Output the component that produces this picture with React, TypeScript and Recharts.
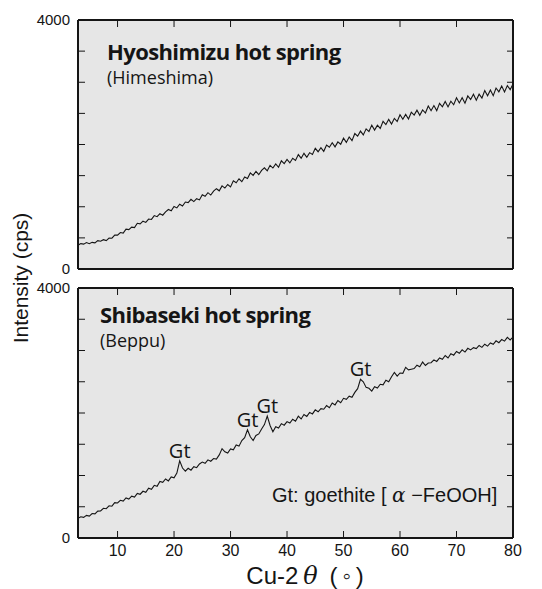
import { CartesianGrid, Line, LineChart, ReferenceDot, XAxis, YAxis } from "recharts";

// scan grid of the diffractometer, 2θ in degrees
const THETA_START = 3;
const THETA_STEP = 0.5;

// Hyoshimizu hot spring (Himeshima), cps, every 0.5°
const hyoshimizu = [
  382, 408, 399, 425, 406, 428, 420, 455, 446, 471,
  456, 496, 495, 546, 544, 586, 577, 640, 632, 672,
  665, 734, 726, 768, 748, 802, 796, 858, 840, 890,
  864, 917, 956, 936, 1005, 982, 1040, 1011, 1076, 1067,
  1120, 1083, 1130, 1110, 1194, 1168, 1226, 1188, 1252, 1290,
  1256, 1335, 1300, 1358, 1319, 1416, 1386, 1449, 1402, 1478,
  1454, 1544, 1504, 1568, 1515, 1584, 1626, 1578, 1665, 1622,
  1688, 1634, 1738, 1694, 1759, 1704, 1778, 1744, 1838, 1780,
  1858, 1794, 1869, 1840, 1938, 1884, 1950, 1890, 1992, 1956,
  2029, 1962, 2042, 2004, 2102, 2034, 2120, 2062, 2176, 2134,
  2215, 2154, 2252, 2208, 2311, 2232, 2310, 2258, 2373, 2320,
  2404, 2329, 2420, 2369, 2478, 2406, 2484, 2410, 2519, 2472,
  2552, 2470, 2556, 2506, 2618, 2542, 2625, 2544, 2660, 2606,
  2692, 2604, 2695, 2638, 2752, 2668, 2752, 2664, 2780, 2723,
  2808, 2713, 2809, 2746, 2866, 2782, 2874, 2784, 2907, 2846,
  2938, 2843, 2946, 2881, 2970,
];

// Shibaseki hot spring (Beppu), cps
const shibaseki = [
  314, 340, 330, 362, 350, 392, 386, 430, 432, 476,
  468, 516, 509, 566, 560, 604, 591, 642, 622, 670,
  655, 714, 700, 748, 730, 797, 780, 843, 826, 904,
  891, 944, 914, 978, 963, 1040, 1235, 1120, 1070, 1115,
  1085, 1140, 1125, 1185, 1215, 1195, 1250, 1228, 1272, 1262,
  1330, 1430, 1380, 1360, 1425, 1412, 1488, 1470, 1560, 1605,
  1730, 1620, 1560, 1640, 1665, 1745, 1815, 1950, 1800, 1700,
  1780, 1760, 1830, 1805, 1862, 1840, 1900, 1868, 1950, 1905,
  1975, 1945, 2010, 1985, 2050, 2020, 2070, 2060, 2118, 2085,
  2160, 2130, 2200, 2165, 2235, 2220, 2270, 2250, 2330, 2390,
  2540, 2500, 2410, 2395, 2350, 2420, 2400, 2460, 2450, 2525,
  2500, 2580, 2650, 2590, 2640, 2635, 2730, 2690, 2700, 2710,
  2765, 2740, 2815, 2760, 2800, 2805, 2850, 2825, 2880, 2860,
  2920, 2880, 2950, 2925, 2985, 2955, 3010, 2975, 3035, 3010,
  3045, 3030, 3080, 3050, 3100, 3070, 3120, 3100, 3155, 3125,
  3175, 3150, 3210, 3170, 3215,
];

const theta = hyoshimizu.map((_, i) => THETA_START + i * THETA_STEP);

const xTicks = [10, 20, 30, 40, 50, 60, 70, 80];
const yTicks = [0, 500, 1000, 1500, 2000, 2500, 3000, 3500, 4000];
const yLabelled = [0, 4000];

// goethite peaks marked in the Shibaseki pattern
const gtTheta = [21, 33, 36.5, 53];
const gtCps = [1235, 1730, 1950, 2540];

const W = 542;
const INK = "#151515";
const PAPER = "#e6e6e6";
const AXIS_FONT = "'Liberation Sans', Arial, sans-serif";
const TITLE_FONT = "'Open Sans', sans-serif";

function Panel({ values, top, height, bottomMargin, showX, peaks }: {
  values: number[];
  top: number;
  height: number;
  bottomMargin: number;
  showX: boolean;
  peaks: boolean;
}) {
  const rows = theta.map((t, i) => ({ theta: t, cps: values[i] }));
  const edge = { stroke: INK, strokeWidth: 2 };
  const tickLine = { stroke: INK, strokeWidth: 1 };
  return (
    <div style={{ position: "absolute", left: 0, top }}>
      <LineChart width={W} height={height} data={rows} margin={{ top: 19, right: 28, bottom: bottomMargin, left: 77 }}>
        <CartesianGrid horizontal={false} vertical={false} fill={PAPER} />
        <XAxis
          xAxisId="b" type="number" dataKey="theta" domain={[3, 80]} ticks={xTicks} allowDataOverflow
          height={1} axisLine={edge} tickLine={tickLine} tickSize={-7} tickMargin={14}
          tick={showX ? { fill: INK, fontSize: 16, fontFamily: AXIS_FONT } : false}
          tickFormatter={(v) => (showX ? String(v) : "")}
        />
        <XAxis
          xAxisId="t" orientation="top" type="number" dataKey="theta" domain={[3, 80]} ticks={xTicks} allowDataOverflow
          height={1} axisLine={edge} tickLine={tickLine} tickSize={-7} tickFormatter={() => ""}
        />
        <YAxis
          yAxisId="l" domain={[0, 4000]} ticks={yTicks} allowDataOverflow width={1}
          axisLine={edge} tickLine={tickLine} tickSize={-7} tickMargin={15}
          tick={{ fill: INK, fontSize: 15, fontFamily: AXIS_FONT }}
          tickFormatter={(v) => (yLabelled.includes(v) ? String(v) : "")}
        />
        <YAxis
          yAxisId="r" orientation="right" domain={[0, 4000]} ticks={yTicks} allowDataOverflow width={1}
          axisLine={edge} tickLine={tickLine} tickSize={-6} tickFormatter={() => ""}
        />
        <Line
          xAxisId="b" yAxisId="l" type="linear" dataKey="cps" stroke={INK} strokeWidth={1.1}
          dot={false} isAnimationActive={false}
        />
        {peaks &&
          gtTheta.map((t, i) => (
            <ReferenceDot
              key={t} xAxisId="b" yAxisId="l" x={t} y={gtCps[i]} r={0}
              label={{ value: "Gt", position: "top", offset: 3, fill: INK, fontSize: 20, fontFamily: TITLE_FONT }}
            />
          ))}
      </LineChart>
    </div>
  );
}

export default function App() {
  return (
    <div style={{ position: "absolute", left: 0, top: 0, width: W, height: 589, background: "#fff", overflow: "hidden" }}>
      <Panel values={hyoshimizu} top={0} height={280} bottomMargin={10} showX={false} peaks={false} />
      <Panel values={shibaseki} top={268} height={321} bottomMargin={50} showX={true} peaks={true} />
      <svg width={W} height={589} style={{ position: "absolute", left: 0, top: 0, pointerEvents: "none" }}>
        <text x={107} y={60} fontFamily={TITLE_FONT} fontWeight={700} fontSize={22} letterSpacing={-0.6} fill={INK}>
          Hyoshimizu hot spring
        </text>
        <text x={107} y={84} fontFamily={TITLE_FONT} fontSize={18} fill={INK}>(Himeshima)</text>
        <text x={100} y={323} fontFamily={TITLE_FONT} fontWeight={700} fontSize={22} letterSpacing={-0.6} fill={INK}>
          Shibaseki hot spring
        </text>
        <text x={100} y={347} fontFamily={TITLE_FONT} fontSize={18} fill={INK}>(Beppu)</text>
        <text x={272} y={502} fontFamily={AXIS_FONT} fontSize={20} fill={INK}>
          Gt: goethite [ <tspan fontStyle="italic" fontFamily="'DejaVu Serif', serif">α</tspan> −FeOOH]
        </text>
        <text
          x={28} y={278} transform="rotate(-90 28 278)" textAnchor="middle"
          fontFamily={AXIS_FONT} fontSize={21} fill={INK}
        >
          Intensity (cps)
        </text>
        <text x={305} y={584} textAnchor="middle" fontFamily={AXIS_FONT} fontSize={24} fill={INK}>
          Cu-2{"\u2009"}<tspan fontStyle="italic" fontFamily="'DejaVu Serif', serif">θ</tspan>{"\u2002(\u2009◦\u2009)"}
        </text>
      </svg>
    </div>
  );
}
